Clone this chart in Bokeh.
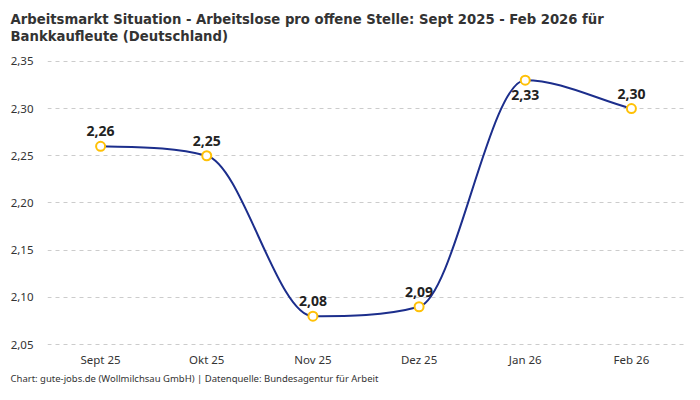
from bokeh.plotting import figure
from bokeh.models import FixedTicker, Title, ColumnDataSource, Range1d
from bokeh.core.properties import value
from bokeh.embed import file_html
from bokeh.resources import INLINE

months = ["Sept 25", "Okt 25", "Nov 25", "Dez 25", "Jan 26", "Feb 26"]
values = [2.26, 2.25, 2.08, 2.09, 2.33, 2.30]
value_labels = ["2,26", "2,25", "2,08", "2,09", "2,33", "2,30"]
y_ticks = [2.05, 2.10, 2.15, 2.20, 2.25, 2.30, 2.35]
y_tick_labels = ["2,05", "2,10", "2,15", "2,20", "2,25", "2,30", "2,35"]

title_1 = "Arbeitsmarkt Situation - Arbeitslose pro offene Stelle: Sept 2025 - Feb 2026 für"
title_2 = "Bankkaufleute (Deutschland)"
footer = "Chart: gute-jobs.de (Wollmilchsau GmbH) | Datenquelle: Bundesagentur für Arbeit"

LINE = "#1c2e8c"
MARK = "#FFC107"
TXT = "#333333"
TITLE_FONT = "DejaVu Sans Condensed"
BODY_FONT = "Noto Sans"

xs = list(range(len(months)))

# monotone cubic tangents (Fritsch-Carlson, like Chart.js "monotone")
n = len(values)
d = [values[i + 1] - values[i] for i in range(n - 1)]
m = []
for i in range(n):
    if i == 0:
        m.append(d[0])
    elif i == n - 1:
        m.append(d[-1])
    elif (d[i - 1] > 0) != (d[i] > 0) or d[i - 1] == 0 or d[i] == 0:
        m.append(0.0)
    else:
        m.append((d[i - 1] + d[i]) / 2)
for i in range(n - 1):
    if d[i] == 0:
        m[i] = m[i + 1] = 0.0
        continue
    a = m[i] / d[i]
    b = m[i + 1] / d[i]
    s = a * a + b * b
    if s > 9:
        t = 3 / s ** 0.5
        m[i] = a * t * d[i]
        m[i + 1] = b * t * d[i]

seg = ColumnDataSource(dict(
    x0=xs[:-1], y0=values[:-1], x1=xs[1:], y1=values[1:],
    cx0=[x + 1 / 3 for x in xs[:-1]],
    cy0=[values[i] + m[i] / 3 for i in range(n - 1)],
    cx1=[x - 1 / 3 for x in xs[1:]],
    cy1=[values[i + 1] - m[i + 1] / 3 for i in range(n - 1)],
))

imax = values.index(max(values))
offs = [15 if i == imax else -15 for i in range(n)]
pts = ColumnDataSource(dict(x=xs, y=values, lab=value_labels, off=offs))

p = figure(width=684, height=384, output_backend="svg", toolbar_location=None,
           x_range=Range1d(-0.5, len(months) - 0.5), y_range=Range1d(2.0479, 2.3615),
           min_border_left=47, min_border_right=0, min_border_top=0, min_border_bottom=0,
           outline_line_color=None, background_fill_color="white", border_fill_color="white")

p.bezier(x0="x0", y0="y0", x1="x1", y1="y1", cx0="cx0", cy0="cy0", cx1="cx1", cy1="cy1",
         source=seg, line_color=LINE, line_width=2)
p.scatter("x", "y", source=pts, size=9, fill_color="white", line_color=MARK, line_width=2)
p.text("x", "y", text="lab", source=pts, y_offset="off", text_align="center",
       text_baseline="middle", text_font_size="14px", text_font_style="bold",
       text_color="#222222", text_font=value(BODY_FONT))

p.xgrid.visible = False
p.ygrid.ticker = FixedTicker(ticks=y_ticks)
p.ygrid.grid_line_color = "#cccccc"
p.ygrid.grid_line_dash = "4 4"
p.ygrid.grid_line_width = 1

p.yaxis.ticker = FixedTicker(ticks=y_ticks)
p.yaxis.major_label_overrides = {t: l for t, l in zip(y_ticks, y_tick_labels)}
p.xaxis.ticker = FixedTicker(ticks=xs)
p.xaxis.major_label_overrides = {x: l for x, l in zip(xs, months)}
for ax in (p.xaxis, p.yaxis):
    ax.axis_line_color = None
    ax.major_tick_line_color = None
    ax.minor_tick_line_color = None
    ax.major_tick_out = 0
    ax.major_tick_in = 0
    ax.minor_tick_out = 0
    ax.minor_tick_in = 0
    ax.major_label_text_font = BODY_FONT
    ax.major_label_text_font_size = "11.5px"
    ax.major_label_text_color = TXT
p.xaxis.major_label_standoff = 5
p.yaxis.major_label_standoff = 14

p.add_layout(Title(text=footer, align="left", offset=-37, text_font=BODY_FONT,
                   text_font_size="9.5px", text_font_style="normal", text_color=TXT,
                   text_line_height=1.0, standoff=0), "below")
p.add_layout(Title(text=title_1 + "\n" + title_2, align="left", offset=-37,
                   text_font=TITLE_FONT, text_font_size="14.7px", text_font_style="bold",
                   text_color=TXT, text_line_height=1.0, standoff=14), "above")

open("out.html", "w").write(file_html(p, INLINE))
